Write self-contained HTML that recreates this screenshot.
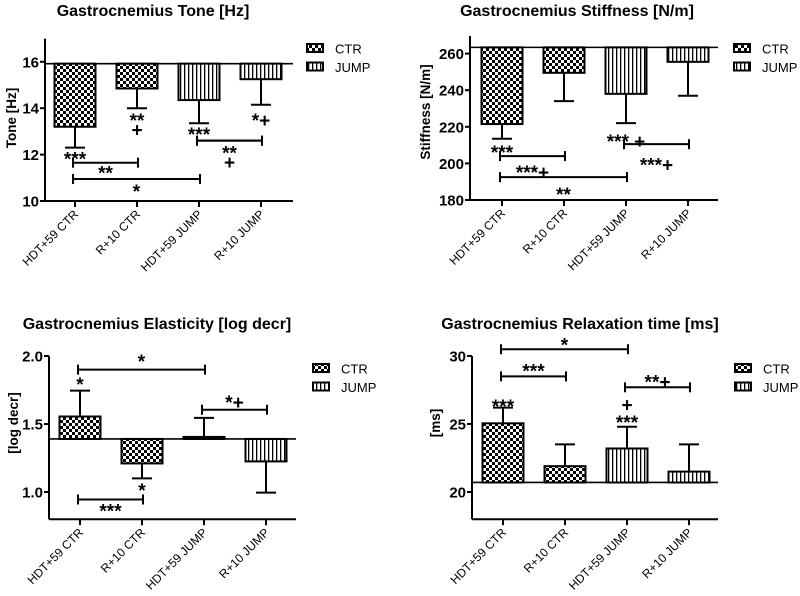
<!DOCTYPE html>
<html><head><meta charset="utf-8"><style>
html,body{margin:0;padding:0;background:#fff;}
svg{display:block;font-family:"Liberation Sans",Arial,sans-serif;}
</style></head><body>
<svg id="fig" width="800" height="596" viewBox="0 0 800 596" xmlns="http://www.w3.org/2000/svg">
<defs>
<pattern id="chk" width="6" height="6" patternUnits="userSpaceOnUse"><rect width="6" height="6" fill="#fff"/><rect width="3" height="3" fill="#000"/><rect x="3" y="3" width="3" height="3" fill="#000"/></pattern>
<pattern id="vst" width="4" height="4" patternUnits="userSpaceOnUse"><rect width="4" height="4" fill="#fff"/><rect width="1.3" height="4" fill="#000"/></pattern>
</defs>
</svg>
<script>
const categories = ["HDT+59 CTR","R+10 CTR","HDT+59 JUMP","R+10 JUMP"];
const groups = ["CTR","CTR","JUMP","JUMP"];
// Tone
const toneMeans = [13.2, 14.85, 14.35, 15.25];
const toneErrs  = [12.3, 14.0, 13.35, 14.15];
const toneTicks = [10, 12, 14, 16];
// Stiffness
const stiffMeans = [221.5, 249.5, 238, 255.5];
const stiffErrs  = [213.5, 234, 222, 237];
const stiffTicks = [180, 200, 220, 240, 260];
// Elasticity
const elasMeans = [1.555, 1.21, 1.405, 1.225];
const elasErrs  = [1.745, 1.10, 1.545, 0.995];
const elasTicks = [1.0, 1.5, 2.0];
const elasTickLabels = ["1.0","1.5","2.0"];
// Relaxation
const relaxMeans = [25.05, 21.9, 23.2, 21.5];
const relaxErrs  = [26.2, 23.5, 24.8, 23.5];
const relaxTicks = [20, 25, 30];

const panels = [
 {key:"tone", title:"Gastrocnemius Tone [Hz]", ylab:"Tone [Hz]", tx:153, ty:16, ylx:16, yly:118,
  ax:45, ar:293, y0:201, v0:10, k:23.2, vmax:17, vmin:10, base:15.92, c0:75,
  means:toneMeans, errs:toneErrs, ticks:toneTicks, tl:toneTicks.map(String), lx:307, ly:44,
  brackets:[[0,1,11.65,"**",11.45],[0,2,10.95,"*",10.65],[2,3,12.6,"**",12.3],[2,3,12.6,"+",11.9]],
  notes:[[0,12.05,"***"],[1,13.7,"**"],[1,13.3,"+"],[2,13.1,"***"],[3,13.7,"*+"]]},
 {key:"stiffness", title:"Gastrocnemius Stiffness [N/m]", ylab:"Stiffness [N/m]", tx:577, ty:16, ylx:430, yly:112,
  ax:470, ar:718, y0:200, v0:180, k:1.83, vmax:269.6, vmin:180, base:263.4, c0:502,
  means:stiffMeans, errs:stiffErrs, ticks:stiffTicks, tl:stiffTicks.map(String), lx:734, ly:44,
  brackets:[[0,1,204,"***+",198],[0,2,192.5,"**",186],[2,3,210.5,"***+",202]],
  notes:[[0,209,"***"],[2,215,"*** +"]]},
 {key:"elasticity", title:"Gastrocnemius Elasticity [log decr]", ylab:"[log decr]", tx:157, ty:329, ylx:18, yly:423,
  ax:49, ar:296, y0:492, v0:1.0, k:136, vmax:2.0, vmin:0.8, base:1.39, c0:80,
  means:elasMeans, errs:elasErrs, ticks:elasTicks, tl:elasTickLabels, lx:313, ly:364,
  brackets:[[0,2,1.9,"*",2.0],[2,3,1.605,"*+",1.7],[0,1,0.945,"***",0.9]],
  notes:[[0,1.83,"*"],[1,1.05,"*"]]},
 {key:"relaxation", title:"Gastrocnemius Relaxation time [ms]", ylab:"[ms]", tx:580, ty:329, ylx:440, yly:423,
  ax:472, ar:718, y0:492, v0:20, k:13.6, vmax:30, vmin:18, base:20.7, c0:503,
  means:relaxMeans, errs:relaxErrs, ticks:relaxTicks, tl:relaxTicks.map(String), lx:735, ly:364,
  brackets:[[0,2,30.5,"*",31.2],[0,1,28.5,"***",29.3],[2,3,27.7,"**+",28.5]],
  notes:[[0,26.7,"***"],[2,25.5,"***"],[2,26.8,"+"]]}
];

const NS="http://www.w3.org/2000/svg";
const svg=document.getElementById('fig');
function mk(tag,attrs,parent,txt){const e=document.createElementNS(NS,tag);for(const a in attrs)e.setAttribute(a,attrs[a]);if(txt!==undefined)e.textContent=txt;parent.appendChild(e);return e;}

panels.forEach(p=>{
  const g=mk('g',{},svg);
  
  
  const Y=v=>p.y0-(v-p.v0)*p.k;
  const X=i=>p.c0+i*62;
  const t=mk('text',{x:p.tx,y:p.ty,'text-anchor':'middle','font-size':16,'font-weight':'bold'},g,p.title);
  
  
  const yl=mk('text',{x:p.ylx,y:p.yly,'text-anchor':'middle','font-size':13.5,'font-weight':'bold',transform:`rotate(-90 ${p.ylx} ${p.yly})`},g,p.ylab);
  
  
  const yTop=Y(p.vmax), yBot=Y(p.vmin);
  const ya=mk('line',{x1:p.ax,y1:yTop,x2:p.ax,y2:yBot,stroke:'#000','stroke-width':2},g);
  
  
  const xa=mk('line',{x1:p.ax,y1:yBot,x2:p.ar,y2:yBot,stroke:'#000','stroke-width':2},g);
  
  
  p.ticks.forEach((v,i)=>{
    mk('line',{x1:p.ax-5,y1:Y(v),x2:p.ax,y2:Y(v),stroke:'#000','stroke-width':2},g);
    const tl=mk('text',{x:p.ax-6,y:Y(v)+5.5,'text-anchor':'end','font-size':15,'font-weight':'bold'},g,p.tl[i]);
    
    
  });
  categories.forEach((c,i)=>{
    const x=X(i);
    mk('line',{x1:x,y1:yBot,x2:x,y2:yBot+6,stroke:'#000','stroke-width':2},g);
    const xl=mk('text',{x:x+4,y:yBot+14,'text-anchor':'end','font-size':12,transform:`rotate(-45 ${x+4} ${yBot+14})`},g,c);
    
    
    const yb=Y(p.base), ym=Y(p.means[i]);
    const top=Math.min(yb,ym), h=Math.abs(yb-ym);
    const fill=groups[i]==="CTR"?"url(#chk)":"url(#vst)";
    const r=mk('rect',{x:x-20.5,y:top,width:41,height:Math.max(h,1.5),fill:fill,stroke:'#000','stroke-width':2},g);
    
    
    const ye=Y(p.errs[i]);
    const el=mk('line',{x1:x,y1:ym,x2:x,y2:ye,stroke:'#000','stroke-width':2},g);
    
    
    mk('line',{x1:x-10,y1:ye,x2:x+10,y2:ye,stroke:'#000','stroke-width':2},g);
  });
  const bl=mk('line',{x1:p.ax,y1:Y(p.base),x2:p.ar,y2:Y(p.base),stroke:'#000','stroke-width':1.6},g);
  
  
  p.brackets.forEach(b=>{
    const y=Y(b[2]), x1=X(b[0])-2, x2=X(b[1])+1;
    const bg=mk('g',{},g);
    
    
    mk('line',{x1:x1,y1:y,x2:x2,y2:y,stroke:'#000','stroke-width':2},bg);
    mk('line',{x1:x1,y1:y-5,x2:x1,y2:y+5,stroke:'#000','stroke-width':2},bg);
    mk('line',{x1:x2,y1:y-5,x2:x2,y2:y+5,stroke:'#000','stroke-width':2},bg);
    const sy=Y(b[4]);
    mk('text',{x:(x1+x2)/2,y:sy+12,'text-anchor':'middle','font-size':19,'font-weight':'bold'},bg,b[3]);
  });
  p.notes.forEach(n=>{
    const tx=mk('text',{x:X(n[0]),y:Y(n[1])+12,'text-anchor':'middle','font-size':19,'font-weight':'bold'},g,n[2]);
    
    
  });
  [["CTR","url(#chk)"],["JUMP","url(#vst)"]].forEach((l,i)=>{
    const lg=mk('g',{},g);
    
    
    mk('rect',{x:p.lx,y:p.ly+i*18.5,width:16,height:8,fill:l[1],stroke:'#000','stroke-width':2},lg);
    mk('text',{x:p.lx+28,y:p.ly+i*18.5+9.5,'font-size':13},lg,l[0]);
  });
});
</script>
</body></html>
